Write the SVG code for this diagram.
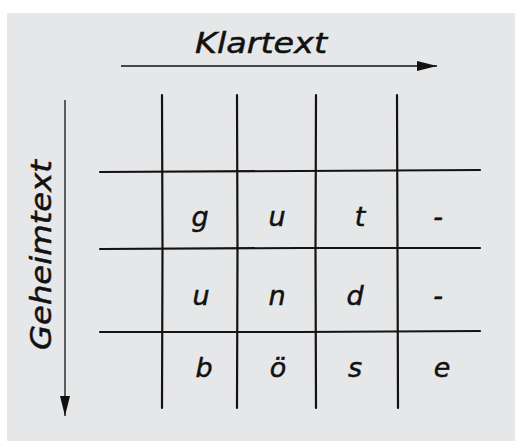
<svg xmlns="http://www.w3.org/2000/svg" width="515" height="441" viewBox="0 0 515 441">
  <style>
    .hand { font-family: "DejaVu Sans", "Liberation Sans", sans-serif; font-style: italic; fill: #111; stroke: #111; stroke-width: 0.5; }
    .axis { stroke: #111; stroke-width: 1.3; fill: none; }
    .grid { stroke: #131313; stroke-width: 2.2; stroke-linecap: round; fill: none; }
    .cell { font-size: 27px; text-anchor: middle; }
  </style>
  <defs>
    <marker id="head" viewBox="0 0 20 10" refX="20" refY="5" markerWidth="20" markerHeight="10" markerUnits="userSpaceOnUse" orient="auto">
      <path d="M0,0 L20,5 L0,10 Z" fill="#111"/>
    </marker>
  </defs>

  <rect x="7" y="13" width="508" height="428" fill="#e6e7e9"/>

  <!-- axis labels -->
  <g id="klartext">
    <text class="hand" x="195" y="53" font-size="29" textLength="132" lengthAdjust="spacingAndGlyphs">Klartext</text>
  </g>
  <g id="geheimtext">
    <text class="hand" transform="translate(51,350) rotate(-90)" font-size="29" textLength="190" lengthAdjust="spacingAndGlyphs">Geheimtext</text>
  </g>

  <!-- axis arrows -->
  <g id="connectors">
    <line class="axis" x1="121" y1="66" x2="437" y2="66" marker-end="url(#head)"/>
    <line class="axis" x1="65" y1="100" x2="65" y2="416" marker-end="url(#head)"/>
  </g>

  <!-- table grid -->
  <g id="grid">
    <path class="grid" d="M162,95 L162.5,250 L162,408"/>
    <path class="grid" d="M237,95 L237.5,250 L237,408"/>
    <path class="grid" d="M316,95 L315.5,250 L316,408"/>
    <path class="grid" d="M397,95 L397.5,250 L398,408"/>
    <path class="grid" d="M100,172 L300,171 L480,170"/>
    <path class="grid" d="M100,249 L300,248 L480,248"/>
    <path class="grid" d="M100,332 L300,332 L480,331"/>
  </g>

  <!-- cell contents -->
  <g id="row1" class="hand cell">
    <text x="200" y="226">g</text>
    <text x="277" y="226">u</text>
    <text x="360" y="226">t</text>
    <text x="438" y="226">-</text>
  </g>
  <g id="row2" class="hand cell">
    <text x="201" y="305">u</text>
    <text x="277" y="305">n</text>
    <text x="355" y="305">d</text>
    <text x="438" y="305">-</text>
  </g>
  <g id="row3" class="hand cell">
    <text x="204" y="377">b</text>
    <text x="278" y="377">ö</text>
    <text x="355" y="377">s</text>
    <text x="442" y="377">e</text>
  </g>
</svg>
